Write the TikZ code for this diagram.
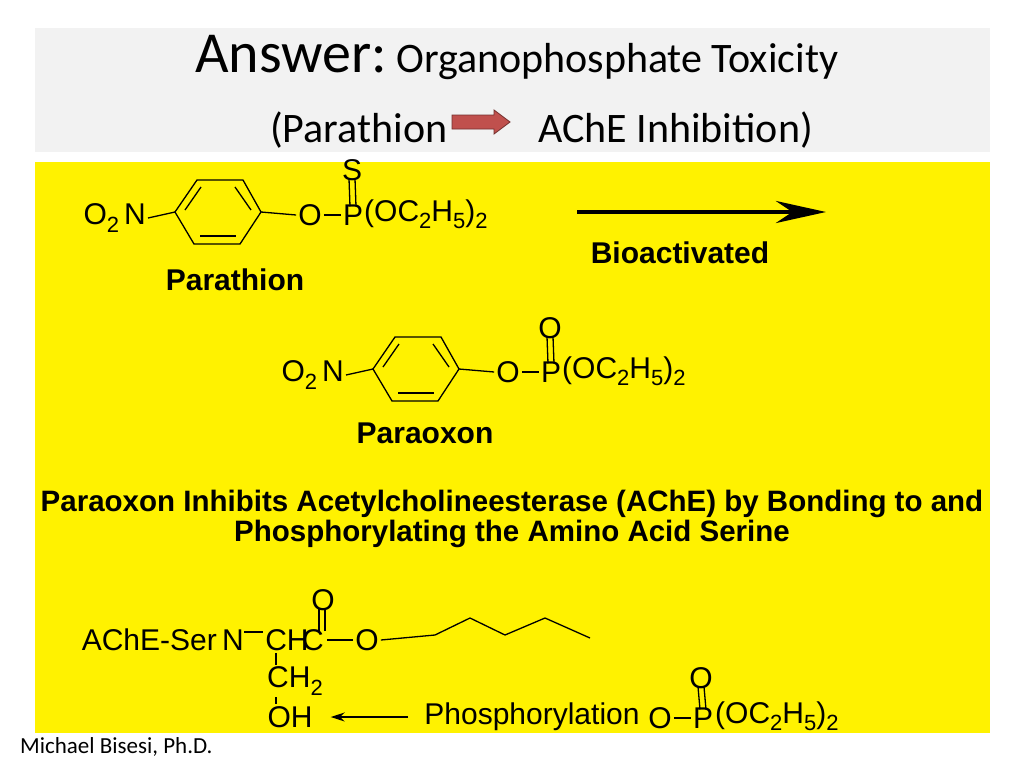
\documentclass[tikz,border=0pt]{standalone}
\usepackage{fontspec}
\setmainfont{Liberation Sans}
\newfontfamily\slidefont{Carlito}
\usetikzlibrary{arrows.meta,calc}
\definecolor{slidegray}{RGB}{242,242,242}
\definecolor{arrowred}{RGB}{192,80,77}
\tikzstyle{atom} = [inner sep=0pt, font=\fontsize{30}{30}\selectfont]
\tikzstyle{bond} = [line width=1.3pt]
\tikzstyle{caption} = [inner sep=0pt, font=\fontsize{30}{30}\selectfont\bfseries]
\newcommand{\sbs}[1]{\raisebox{-0.25em}{\fontsize{22}{22}\selectfont #1}}
% benzene ring, named #1, centred at #2
\newcommand{\ring}[2]{
  \coordinate (#1L) at ($(#2)+(-43,0)$);
  \coordinate (#1R) at ($(#2)+(43,0)$);
  \draw[bond] (#1L) -- ++(22,-32) -- ++(46,0) -- (#1R) -- ++(-21,32) -- ++(-46,0) -- cycle;
  \draw[bond] ($(#2)+(-33,-2)$) -- ++(16,-23);
  \draw[bond] ($(#2)+(33,-2)$) -- ++(-16,-23);
  \draw[bond] ($(#2)+(-18,24)$) -- ++(36,0);
}
\begin{document}
\begin{tikzpicture}[x=1pt, y=-1pt]
\useasboundingbox (0,0) rectangle (1024,768);
\fill[white] (0,0) rectangle (1024,768);
\fill[slidegray] (35,28) rectangle (990,152);
\fill[yellow] (35,162) rectangle (990,733);
% title
\node[anchor=base west, inner sep=0pt, font=\slidefont\fontsize{58}{58}\selectfont] (ans) at (195,72) {Answer:};
\node[anchor=base west, inner sep=0pt, font=\slidefont\fontsize{42}{42}\selectfont] (topic) at (396,72) {Organophosphate Toxicity};
\node[anchor=base west, inner sep=0pt, font=\slidefont\fontsize{42}{42}\selectfont] (par) at (270,142) {(Parathion};
\node[anchor=base west, inner sep=0pt, font=\slidefont\fontsize{42}{42}\selectfont] (ache) at (538,142) {AChE Inhibition)};
\filldraw[fill=arrowred, draw=arrowred!60!black, line width=0.8pt] (452,115) -- (494,115) -- (494,110) -- (510,122) -- (494,134) -- (494,129) -- (452,129) -- cycle;
% parathion
\node[atom, anchor=east] (n1) at (146,218) {O\sbs{2}\,N};
\ring{ra}{218,212}
\node[atom] (o1) at (310,215) {O};
\node[atom] (p1) at (353,215) {P};
\node[atom, anchor=west] (e1) at (364,214) {(OC\sbs{2}H\sbs{5})\sbs{2}};
\node[atom] (s1) at (352,170) {S};
\draw[bond] ([xshift=2]n1.east) -- (raL);
\draw[bond] (raR) -- ([xshift=-2]o1.west);
\draw[bond] ([xshift=2]o1.east) -- ([xshift=-2]p1.west);
\draw[bond] ([xshift=-3,yshift=-2]p1.north) -- ([xshift=-3,yshift=2]s1.south);
\draw[bond] ([xshift=3,yshift=-2]p1.north) -- ([xshift=3,yshift=2]s1.south);
\node[caption] (lb1) at (235,280) {Parathion};
\coordinate (a1) at (577,212);
\coordinate (a2) at (826,212);
\draw[line width=4.5pt, -{Stealth[length=50pt, width=22pt]}] (a1) -- (a2);
\node[caption] (bio) at (680,253) {Bioactivated};
% paraoxon
\node[atom, anchor=east] (n2) at (344,375) {O\sbs{2}\,N};
\ring{rb}{416,369}
\node[atom] (o2) at (508,372) {O};
\node[atom] (p2) at (551,372) {P};
\node[atom, anchor=west] (e2) at (562,371) {(OC\sbs{2}H\sbs{5})\sbs{2}};
\node[atom] (s2) at (550,328) {O};
\draw[bond] ([xshift=2]n2.east) -- (rbL);
\draw[bond] (rbR) -- ([xshift=-2]o2.west);
\draw[bond] ([xshift=2]o2.east) -- ([xshift=-2]p2.west);
\draw[bond] ([xshift=-3,yshift=-2]p2.north) -- ([xshift=-3,yshift=2]s2.south);
\draw[bond] ([xshift=3,yshift=-2]p2.north) -- ([xshift=3,yshift=2]s2.south);
\node[caption] (lb2) at (425,433) {Paraoxon};
\node[caption, align=center, font=\fontsize{29.5}{30}\selectfont\bfseries] (txt) at (512,519) {Paraoxon Inhibits Acetylcholineesterase (AChE) by Bonding to and\\Phosphorylating the Amino Acid Serine};
% serine
\node[atom, anchor=east] (ser) at (217,640) {AChE-Ser};
\node[atom] (n3) at (233,640) {N};
\node[atom] (ch) at (287,640) {CH};
\node[atom] (c3) at (313,640) {C};
\node[atom] (o3) at (367,640) {O};
\node[atom] (o4) at (323,600) {O};
\node[atom] (ch2) at (295,681) {CH\sbs{2}};
\node[atom] (oh) at (290,717) {OH};
\draw[bond] ([yshift=8]n3.east) -- ([yshift=8,xshift=-2]ch.west);
\draw[bond] ([xshift=3]c3.east) -- ([xshift=-2]o3.west);
\draw[bond] ([xshift=6,yshift=-2]c3.north) -- ([xshift=-4,yshift=2]o4.south);
\draw[bond] ([xshift=12,yshift=-2]c3.north) -- ([xshift=2,yshift=2]o4.south);
\draw[bond] ([xshift=-11,yshift=-2]ch.south) -- ([xshift=-19,yshift=2]ch2.north);
\draw[bond] ([xshift=-19,yshift=-2]ch2.south) -- ([xshift=-14,yshift=2]oh.north);
\coordinate (z1) at (435,635);
\coordinate (z2) at (470,618);
\coordinate (z3) at (505,635);
\coordinate (z4) at (545,618);
\coordinate (z5) at (590,638);
\draw[bond] ([xshift=2]o3.east) -- (z1) -- (z2) -- (z3) -- (z4) -- (z5);
\node[atom] (phos) at (532,717) {Phosphorylation};
\draw[bond, -{Stealth[length=14pt, width=9pt]}] ([xshift=-16]phos.west) -- ([xshift=18]oh.east);
\node[atom] (o5) at (660,718) {O};
\node[atom] (p5) at (703,718) {P};
\node[atom, anchor=west] (e5) at (715,716) {(OC\sbs{2}H\sbs{5})\sbs{2}};
\node[atom] (o6) at (701,678) {O};
\draw[bond] ([xshift=2]o5.east) -- ([xshift=-2]p5.west);
\draw[bond] ([xshift=-3,yshift=-2]p5.north) -- ([xshift=-3,yshift=2]o6.south);
\draw[bond] ([xshift=3,yshift=-2]p5.north) -- ([xshift=3,yshift=2]o6.south);
\node[anchor=base west, inner sep=0pt, font=\slidefont\fontsize{23}{23}\selectfont] (auth) at (20,753) {Michael Bisesi, Ph.D.};
\end{tikzpicture}
\end{document}
